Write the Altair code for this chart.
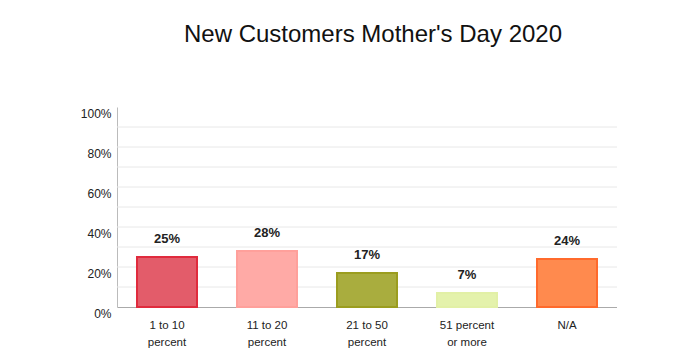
import altair as alt
import pandas as pd

categories = ["1 to 10\npercent", "11 to 20\npercent", "21 to 50\npercent", "51 percent\nor more", "N/A"]
values = [0.25, 0.28, 0.17, 0.07, 0.24]
fills = ["#e35c6a", "#ffaaa6", "#a9ad3e", "#e4f2ac", "#ff8a4e"]
strokes = ["#e02b3d", "#ffa09b", "#9b9d1f", "#e2f0a6", "#ff6a2c"]
labels = ["25%", "28%", "17%", "7%", "24%"]
tick_values = [0, 0.2, 0.4, 0.6, 0.8, 1.0]
grid_values = [0.1, 0.2, 0.3, 0.4, 0.5, 0.6, 0.7, 0.8, 0.9]

df = pd.DataFrame({"cat": categories, "val": values, "fill": fills, "stroke": strokes, "label": labels})
gdf = pd.DataFrame({"val": grid_values})

yscale = alt.Scale(domain=[0, 1], nice=False)
yaxis = alt.Axis(values=tick_values, format=".0%", labelOverlap=False,
                 labelFont="Liberation Sans", labelFontSize=12, labelColor="#222",
                 labelPadding=6, labelOffset=6, ticks=False, domainColor="#bbbbbb",
                 grid=False)

x = alt.X("cat:N", sort=categories, title=None,
          scale=alt.Scale(paddingInner=0.4, paddingOuter=0.2),
          axis=alt.Axis(labelAngle=0, labelExpr="split(datum.label, '\\n')", labelFont="Liberation Sans",
                        labelFontSize=11.5, labelColor="#222", labelPadding=12, labelLineHeight=17,
                        ticks=False, domainColor="#aaaaaa", domainWidth=1))

grid = alt.Chart(gdf).mark_rule(color="#e8e8e8", strokeWidth=1).encode(
    y=alt.Y("val:Q", title=None, scale=yscale, axis=yaxis))

bars = alt.Chart(df).mark_bar(strokeWidth=2).encode(
    x=x, y=alt.Y("val:Q", title=None, scale=yscale, axis=yaxis),
    fill=alt.Fill("fill:N", scale=None),
    stroke=alt.Stroke("stroke:N", scale=None),
)
text = alt.Chart(df).mark_text(dy=-14, baseline="alphabetic", fontWeight="bold", fontSize=13,
                               font="Liberation Sans", color="#222").encode(
    x=alt.X("cat:N", sort=categories), y=alt.Y("val:Q", title=None, scale=yscale, axis=yaxis),
    text="label:N")

chart = (grid + bars + text).properties(
    width=500, height=200,
    padding={"left": 109, "top": 99, "right": 0, "bottom": 50},
    autosize=alt.AutoSizeParams(type="none"),
    title=alt.Title("New Customers Mother's Day 2020", font="Liberation Sans", fontSize=24,
                    fontWeight="normal", color="#111", anchor="middle", baseline="alphabetic",
                    offset=41, dx=6),
).configure_view(stroke=None)

chart.save("out.html", embed_options={"renderer": "svg", "actions": False})
